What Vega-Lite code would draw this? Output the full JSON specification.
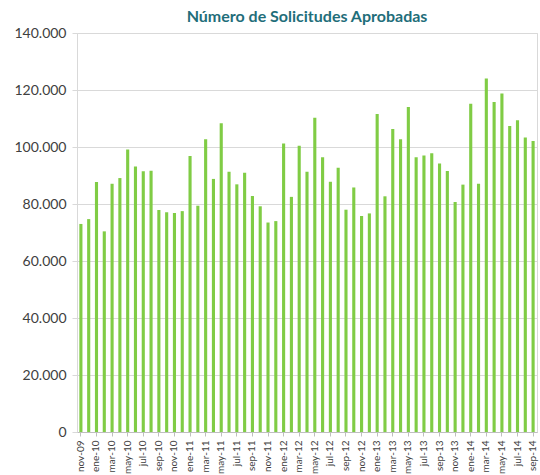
{
  "$schema": "https://vega.github.io/schema/vega-lite/v6.json",
  "autosize": {"type": "none"},
  "width": 460,
  "height": 399,
  "padding": {"left": 77, "top": 33, "right": 3, "bottom": 43},
  "background": "white",
  "config": {
    "locale": {"number": {"decimal": ",", "thousands": ".", "grouping": [3], "currency": ["", " €"]}},
    "view": {"stroke": "#d9d9d9", "strokeWidth": 1},
    "font": "Lato"
  },
  "title": {
    "text": "Número de Solicitudes Aprobadas",
    "font": "Lato",
    "fontSize": 16,
    "fontWeight": "bold",
    "color": "#1f6e7a",
    "anchor": "middle",
    "offset": 1
  },
  "data": {
    "values": [
      {"mes": "nov-09", "solicitudes": 73000},
      {"mes": "dic-09", "solicitudes": 74700},
      {"mes": "ene-10", "solicitudes": 87700},
      {"mes": "feb-10", "solicitudes": 70400},
      {"mes": "mar-10", "solicitudes": 87100},
      {"mes": "abr-10", "solicitudes": 89100},
      {"mes": "may-10", "solicitudes": 99100},
      {"mes": "jun-10", "solicitudes": 93200},
      {"mes": "jul-10", "solicitudes": 91500},
      {"mes": "ago-10", "solicitudes": 91700},
      {"mes": "sep-10", "solicitudes": 77900},
      {"mes": "oct-10", "solicitudes": 77100},
      {"mes": "nov-10", "solicitudes": 76800},
      {"mes": "dic-10", "solicitudes": 77500},
      {"mes": "ene-11", "solicitudes": 96800},
      {"mes": "feb-11", "solicitudes": 79400},
      {"mes": "mar-11", "solicitudes": 102700},
      {"mes": "abr-11", "solicitudes": 88800},
      {"mes": "may-11", "solicitudes": 108300},
      {"mes": "jun-11", "solicitudes": 91300},
      {"mes": "jul-11", "solicitudes": 86900},
      {"mes": "ago-11", "solicitudes": 91000},
      {"mes": "sep-11", "solicitudes": 82800},
      {"mes": "oct-11", "solicitudes": 79200},
      {"mes": "nov-11", "solicitudes": 73500},
      {"mes": "dic-11", "solicitudes": 74000},
      {"mes": "ene-12", "solicitudes": 101200},
      {"mes": "feb-12", "solicitudes": 82500},
      {"mes": "mar-12", "solicitudes": 100400},
      {"mes": "abr-12", "solicitudes": 91300},
      {"mes": "may-12", "solicitudes": 110300},
      {"mes": "jun-12", "solicitudes": 96400},
      {"mes": "jul-12", "solicitudes": 87800},
      {"mes": "ago-12", "solicitudes": 92700},
      {"mes": "sep-12", "solicitudes": 78000},
      {"mes": "oct-12", "solicitudes": 85800},
      {"mes": "nov-12", "solicitudes": 75800},
      {"mes": "dic-12", "solicitudes": 76700},
      {"mes": "ene-13", "solicitudes": 111600},
      {"mes": "feb-13", "solicitudes": 82700},
      {"mes": "mar-13", "solicitudes": 106300},
      {"mes": "abr-13", "solicitudes": 102700},
      {"mes": "may-13", "solicitudes": 114000},
      {"mes": "jun-13", "solicitudes": 96400},
      {"mes": "jul-13", "solicitudes": 97000},
      {"mes": "ago-13", "solicitudes": 97800},
      {"mes": "sep-13", "solicitudes": 94200},
      {"mes": "oct-13", "solicitudes": 91600},
      {"mes": "nov-13", "solicitudes": 80700},
      {"mes": "dic-13", "solicitudes": 86800},
      {"mes": "ene-14", "solicitudes": 115200},
      {"mes": "feb-14", "solicitudes": 87100},
      {"mes": "mar-14", "solicitudes": 124000},
      {"mes": "abr-14", "solicitudes": 115800},
      {"mes": "may-14", "solicitudes": 118800},
      {"mes": "jun-14", "solicitudes": 107400},
      {"mes": "jul-14", "solicitudes": 109400},
      {"mes": "ago-14", "solicitudes": 103300},
      {"mes": "sep-14", "solicitudes": 102100}
    ]
  },
  "mark": {"type": "bar", "color": "#80cc45"},
  "encoding": {
    "x": {
      "field": "mes",
      "type": "nominal",
      "sort": null,
      "scale": {"paddingInner": 0.6, "paddingOuter": 0.3},
      "axis": {
        "title": null,
        "values": ["nov-09","ene-10","mar-10","may-10","jul-10","sep-10","nov-10","ene-11","mar-11","may-11","jul-11","sep-11","nov-11","ene-12","mar-12","may-12","jul-12","sep-12","nov-12","ene-13","mar-13","may-13","jul-13","sep-13","nov-13","ene-14","mar-14","may-14","jul-14","sep-14"],
        "labelAngle": -90,
        "labelFont": "Lato",
        "labelFontSize": 10,
        "labelColor": "#404040",
        "labelPadding": 4,
        "domainColor": "#bfbfbf",
        "tickColor": "#bfbfbf",
        "tickSize": 4,
        "ticks": true,
        "bandPosition": 0.5
      }
    },
    "y": {
      "field": "solicitudes",
      "type": "quantitative",
      "scale": {"domain": [0, 140000]},
      "axis": {
        "title": null,
        "values": [0, 20000, 40000, 60000, 80000, 100000, 120000, 140000],
        "format": ",d",
        "labelFont": "Lato",
        "labelFontSize": 14,
        "labelColor": "#404040",
        "labelPadding": 6,
        "domain": false,
        "tickColor": "#d9d9d9",
        "tickSize": 5,
        "gridColor": "#d9d9d9",
        "grid": true
      }
    }
  }
}
